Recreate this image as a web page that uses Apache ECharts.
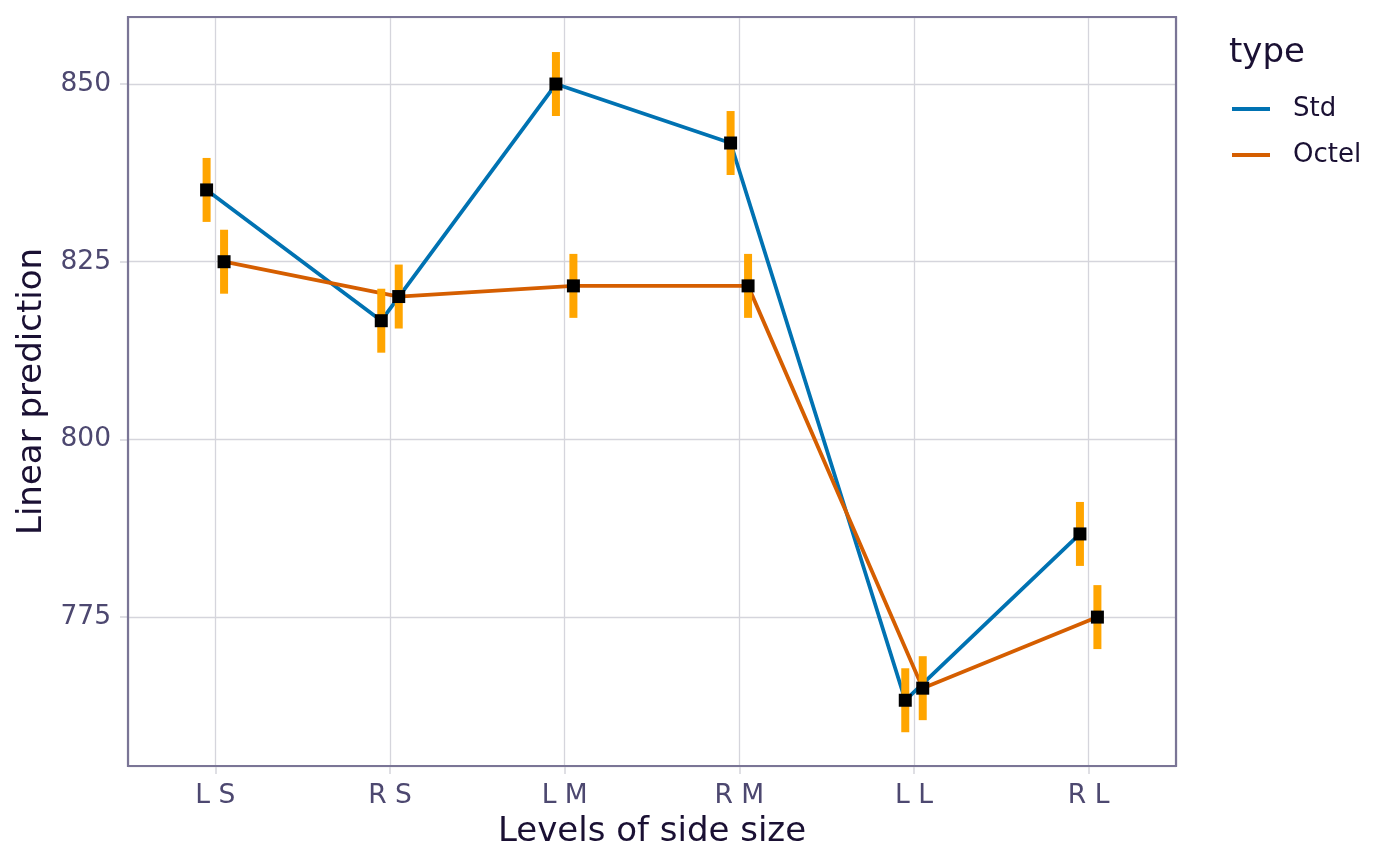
<!DOCTYPE html>
<html>
<head>
<meta charset="utf-8">
<script src="https://cdn.jsdelivr.net/npm/echarts@6/dist/echarts.min.js"></script>
<style>html,body{margin:0;padding:0;background:#fff}#c{width:1400px;height:866px}</style>
</head>
<body>
<div id="c"></div>
<script>
const categories = ['L S', 'R S', 'L M', 'R M', 'L L', 'R L'];
const seriesNames = ['Std', 'Octel'];
const stdValues = [835.1, 816.7, 850.0, 841.7, 763.3, 786.7];
const stdLower  = [830.6, 812.2, 845.5, 837.2, 758.8, 782.2];
const stdUpper  = [839.6, 821.2, 854.5, 846.2, 767.8, 791.2];
const octelValues = [825.0, 820.1, 821.6, 821.6, 765.0, 775.0];
const octelLower  = [820.5, 815.6, 817.1, 817.1, 760.5, 770.5];
const octelUpper  = [829.5, 824.6, 826.1, 826.1, 769.5, 779.5];
const yTicks = [775, 800, 825, 850];

const FONT = 'DejaVu Sans';
const TITLE_C = '#1a1033';
const TICK_C = '#4d4870';
const GRID_C = '#d5d5dc';
const BORDER_C = '#7a7596';
const DODGE = 0.05;
const G = { left: 128, top: 17, right: 224, bottom: 100 };

function pts(vals, off) { return vals.map((v, i) => [i + 1 + off, v]); }
function bars(lo, hi, off) { return lo.map((l, i) => [i + 1 + off, l, hi[i]]); }

const errRender = function (params, api) {
  const x = api.value(0);
  const p1 = api.coord([x, api.value(2)]);
  const p2 = api.coord([x, api.value(1)]);
  return { type: 'rect', shape: { x: p1[0] - 4, y: p1[1], width: 8, height: p2[1] - p1[1] },
           style: { fill: '#FFA500' } };
};

const chart = echarts.init(document.getElementById('c'));
chart.setOption({
  animation: false,
  backgroundColor: '#ffffff',
  grid: { left: G.left, right: G.right, top: G.top, bottom: G.bottom, show: false },
  xAxis: {
    type: 'value', min: 0.5, max: 6.5, minInterval: 1, maxInterval: 1,
    name: 'Levels of side size', nameLocation: 'middle', nameGap: 45,
    nameTextStyle: { fontFamily: FONT, fontSize: 34, color: TITLE_C },
    axisLine: { show: false },
    axisTick: { show: true, length: 8, lineStyle: { color: GRID_C, width: 1.5 } },
    axisLabel: { fontFamily: FONT, fontSize: 26.5, color: TICK_C, margin: 17,
      showMinLabel: false, showMaxLabel: false,
      formatter: v => (Number.isInteger(v) && categories[v - 1]) ? categories[v - 1] : '' },
    splitLine: { show: true, lineStyle: { color: GRID_C, width: 1.3 } }
  },
  yAxis: {
    type: 'value', min: 754.05, max: 859.43, minInterval: 25, maxInterval: 25,
    name: 'Linear prediction', nameLocation: 'middle', nameGap: 76,
    nameTextStyle: { fontFamily: FONT, fontSize: 34, color: TITLE_C },
    axisLine: { show: false },
    axisTick: { show: true, length: 8, lineStyle: { color: GRID_C, width: 1.5 } },
    axisLabel: { fontFamily: FONT, fontSize: 26.5, color: TICK_C, margin: 17,
      showMinLabel: false, showMaxLabel: false,
      formatter: v => yTicks.indexOf(v) >= 0 ? String(v) : '' },
    splitLine: { show: true, lineStyle: { color: GRID_C, width: 1.3 } }
  },
  legend: {
    orient: 'vertical', left: 1232, top: 94, padding: 0, itemWidth: 38, itemHeight: 4, itemGap: 16,
    data: [{ name: 'Std', icon: 'rect' }, { name: 'Octel', icon: 'rect' }],
    textStyle: { fontFamily: FONT, fontSize: 26, color: TITLE_C, lineHeight: 30, padding: [0, 0, 0, 18] }
  },
  graphic: [{
    type: 'text', x: 1229, y: 53,
    style: { text: 'type', fontFamily: FONT, fontSize: 34, fill: TITLE_C, verticalAlign: 'middle' }
  }, {
    type: 'rect', z: 100, silent: true,
    shape: { x: G.left, y: G.top, width: 1400 - G.left - G.right, height: 866 - G.top - G.bottom },
    style: { fill: 'none', stroke: BORDER_C, lineWidth: 2.2 }
  }],
  series: [
    { name: seriesNames[0], type: 'line', data: pts(stdValues, -DODGE), color: '#0072B2',
      showSymbol: false, lineStyle: { width: 3.8, color: '#0072B2' }, z: 2 },
    { name: seriesNames[1], type: 'line', data: pts(octelValues, DODGE), color: '#D55E00',
      showSymbol: false, lineStyle: { width: 3.8, color: '#D55E00' }, z: 2 },
    { name: 'stdErr', type: 'custom', data: bars(stdLower, stdUpper, -DODGE), renderItem: errRender,
      encode: { x: 0, y: [1, 2] }, z: 3 },
    { name: 'octelErr', type: 'custom', data: bars(octelLower, octelUpper, DODGE), renderItem: errRender,
      encode: { x: 0, y: [1, 2] }, z: 3 },
    { name: 'stdPts', type: 'scatter', data: pts(stdValues, -DODGE), symbol: 'rect', symbolSize: 13,
      itemStyle: { color: '#000000', opacity: 1 }, z: 4 },
    { name: 'octelPts', type: 'scatter', data: pts(octelValues, DODGE), symbol: 'rect', symbolSize: 13,
      itemStyle: { color: '#000000', opacity: 1 }, z: 4 }
  ]
});
</script>
</body>
</html>
